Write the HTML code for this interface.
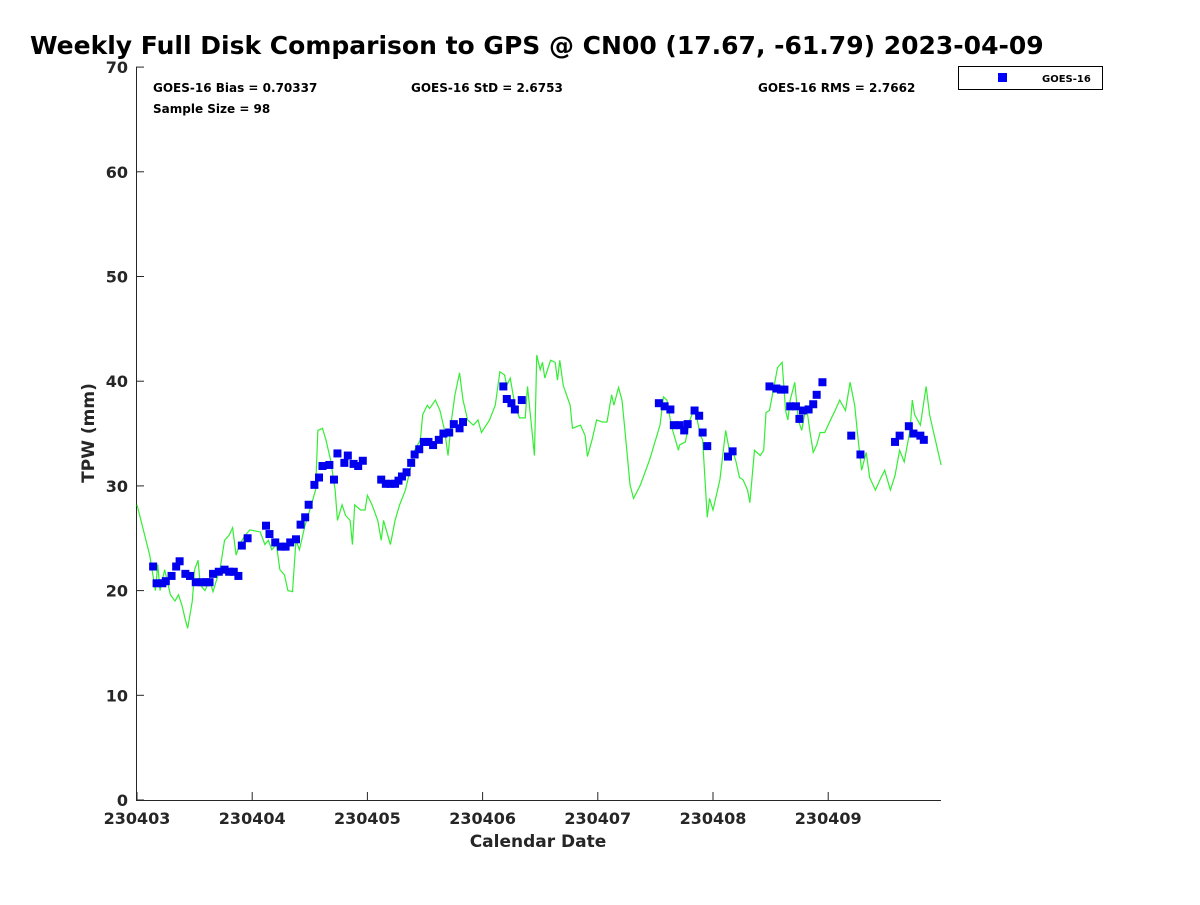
<!DOCTYPE html>
<html><head><meta charset="utf-8"><style>
body{margin:0;background:#fff;font-family:"Liberation Sans","DejaVu Sans",sans-serif}
svg text{font-family:"DejaVu Sans","Liberation Sans",sans-serif;font-weight:bold}
</style></head><body>
<svg id="c" width="1200" height="900" xmlns="http://www.w3.org/2000/svg">
<text x="30" y="54" font-size="25" fill="#000">Weekly Full Disk Comparison to GPS @ CN00 (17.67, -61.79) 2023-04-09</text>
<g id="axes"></g>
<g id="marks"></g>
<text x="153" y="92" font-size="12">GOES-16 Bias = 0.70337</text>
<text x="153" y="113" font-size="12">Sample Size = 98</text>
<text x="411" y="92" font-size="12">GOES-16 StD = 2.6753</text>
<text x="758" y="92" font-size="12">GOES-16 RMS = 2.7662</text>
<g>
<rect x="958.5" y="66.5" width="144" height="23" fill="#fff" stroke="#000"/>
<rect x="998" y="73" width="9" height="9" fill="#0000ff"/>
<text x="1042" y="82" font-size="10">GOES-16</text>
</g>
<text x="538" y="847" font-size="17" text-anchor="middle" fill="#262626">Calendar Date</text>
<text transform="translate(94,433) rotate(-90)" font-size="17" text-anchor="middle" fill="#262626">TPW (mm)</text>
</svg>
<script>
const xTickLabels=["230403","230404","230405","230406","230407","230408","230409"];
const yTickValues=[0,10,20,30,40,50,60,70];
const gpsDays=[0,0.11,0.16,0.18,0.20,0.24,0.29,0.33,0.36,0.39,0.42,0.44,0.48,0.50,0.53,0.55,0.59,0.63,0.66,0.69,0.72,0.76,0.80,0.83,0.86,0.89,0.94,0.98,1.07,1.11,1.14,1.17,1.21,1.24,1.28,1.31,1.35,1.38,1.41,1.46,1.50,1.55,1.57,1.61,1.64,1.68,1.72,1.74,1.78,1.81,1.85,1.87,1.89,1.94,1.98,2.00,2.04,2.09,2.12,2.14,2.20,2.24,2.28,2.33,2.37,2.41,2.46,2.48,2.52,2.54,2.59,2.63,2.67,2.70,2.73,2.76,2.80,2.83,2.87,2.92,2.96,2.99,3.06,3.11,3.15,3.19,3.21,3.24,3.28,3.32,3.37,3.39,3.45,3.47,3.50,3.52,3.54,3.59,3.63,3.65,3.67,3.70,3.76,3.78,3.85,3.89,3.91,3.95,3.99,4.04,4.08,4.12,4.14,4.18,4.21,4.24,4.28,4.31,4.37,4.45,4.54,4.57,4.60,4.63,4.65,4.70,4.71,4.76,4.80,4.83,4.86,4.89,4.91,4.95,4.97,5.00,5.06,5.11,5.15,5.17,5.20,5.23,5.26,5.30,5.32,5.36,5.41,5.44,5.46,5.49,5.54,5.56,5.60,5.63,5.65,5.67,5.71,5.74,5.77,5.81,5.84,5.87,5.90,5.93,5.97,6.02,6.06,6.10,6.15,6.19,6.23,6.26,6.29,6.33,6.36,6.41,6.45,6.49,6.54,6.58,6.62,6.66,6.71,6.73,6.75,6.80,6.85,6.88,6.93,6.98];
const gpsTPW=[28.2,23.4,20,22.5,20,22,19.6,19,19.6,18.6,17.2,16.4,19,22,22.9,20.5,20,21,19.9,21,22,24.8,25.3,26,23.4,24.4,25.3,25.8,25.6,24.4,24.8,23.9,24.4,22,21.5,20,19.9,24.8,23.9,26.3,27.7,29.6,35.3,35.5,34.4,32.5,29.6,26.7,28.2,27.2,26.7,24.4,28.2,27.7,27.7,29.1,28.2,26.7,24.8,26.7,24.4,26.7,28.2,29.6,31.5,33.4,34.4,36.8,37.7,37.4,38.2,37.2,35.3,32.9,36.3,38.7,40.8,38.2,36.3,35.8,36.3,35.1,36.3,37.7,40.9,40.6,39.6,40.3,37.7,36.5,36.5,39.5,32.9,42.5,41.1,41.8,40.3,42,41.8,40.1,42,39.6,37.7,35.5,35.8,34.8,32.8,34.4,36.3,36.1,36.1,38.7,37.7,39.4,38.2,34.8,30.1,28.8,30.1,32.5,35.8,38.5,38.2,36.3,35.3,33.4,33.9,34.2,36.3,37.2,36.5,34.8,34.4,27,28.8,27.7,30.6,35.3,32.9,33.4,32.3,30.8,30.6,29.6,28.4,33.4,32.9,33.4,37,37.2,40.1,41.3,41.8,37.2,36.3,38.2,39.9,36.3,35.3,37.7,35.3,33.2,33.9,35.1,35.1,36.3,37.2,38.2,37.2,39.9,37.7,34.4,31.5,33.2,30.8,29.6,30.6,31.5,29.6,31,33.4,32.3,35.3,38.2,36.8,35.8,39.5,36.8,34.4,32];
const goesDays=[0.14,0.17,0.22,0.25,0.30,0.34,0.37,0.42,0.46,0.51,0.56,0.60,0.63,0.66,0.71,0.76,0.80,0.84,0.88,0.91,0.96,1.12,1.15,1.20,1.25,1.29,1.33,1.38,1.42,1.46,1.49,1.54,1.58,1.61,1.67,1.71,1.74,1.80,1.83,1.88,1.92,1.96,2.12,2.16,2.20,2.24,2.27,2.30,2.34,2.38,2.41,2.45,2.49,2.53,2.57,2.62,2.66,2.71,2.75,2.80,2.83,3.18,3.21,3.25,3.28,3.34,4.53,4.58,4.63,4.66,4.71,4.75,4.78,4.84,4.88,4.91,4.95,5.13,5.17,5.49,5.55,5.59,5.62,5.67,5.72,5.75,5.78,5.83,5.87,5.90,5.95,6.20,6.28,6.58,6.62,6.70,6.74,6.80,6.83];
const goesTPW=[22.3,20.7,20.7,20.9,21.4,22.3,22.8,21.6,21.4,20.8,20.8,20.8,20.8,21.6,21.8,22,21.8,21.8,21.4,24.3,25,26.2,25.4,24.6,24.2,24.2,24.6,24.9,26.3,27,28.2,30.1,30.8,31.9,32,30.6,33.1,32.2,32.9,32.1,31.9,32.4,30.6,30.2,30.2,30.2,30.5,30.9,31.3,32.2,33,33.5,34.2,34.2,33.9,34.4,35,35.1,35.9,35.5,36.1,39.5,38.3,37.9,37.3,38.2,37.9,37.6,37.3,35.8,35.8,35.3,35.9,37.2,36.7,35.1,33.8,32.8,33.3,39.5,39.3,39.2,39.2,37.6,37.6,36.4,37.2,37.3,37.8,38.7,39.9,34.8,33,34.2,34.8,35.7,35,34.8,34.4];
const NS='http://www.w3.org/2000/svg';
const X0=137,XS=115.2,Y0=800,YS=10.47;
function sx(d){return X0+d*XS;}
function sy(v){return Y0-v*YS;}
function mk(t,a,p){const e=document.createElementNS(NS,t);for(const k in a)e.setAttribute(k,a[k]);p.appendChild(e);return e;}
const ax=document.getElementById('axes'),mg=document.getElementById('marks');
let l=mk('line',{x1:136.5,y1:67,x2:136.5,y2:800,stroke:'#262626','stroke-width':1},ax);


l=mk('line',{x1:136,y1:800.5,x2:941,y2:800.5,stroke:'#262626','stroke-width':1},ax);


yTickValues.forEach(v=>{
 const t=mk('line',{x1:136,x2:144,y1:sy(v),y2:sy(v),stroke:'#262626'},ax);
 
 
 const tx=mk('text',{x:128,y:sy(v)+6,'font-size':16,'text-anchor':'end',fill:'#262626'},ax);
 tx.textContent=v;
 
 
});
xTickLabels.forEach((s,i)=>{
 const t=mk('line',{x1:sx(i),x2:sx(i),y1:800,y2:792,stroke:'#262626'},ax);
 
 
 const tx=mk('text',{x:sx(i),y:824,'font-size':16,'text-anchor':'middle',fill:'#262626'},ax);
 tx.textContent=s;
 
 
});
const pl=mk('polyline',{points:gpsDays.map((d,i)=>sx(d)+','+sy(gpsTPW[i])).join(' '),fill:'none',stroke:'#33ee33','stroke-width':1.2},mg);


goesDays.forEach((d,i)=>{
 const r=mk('rect',{x:sx(d)-4,y:sy(goesTPW[i])-4,width:8,height:8,fill:'#0000ee'},mg);
 
 
});
</script>
</body></html>
